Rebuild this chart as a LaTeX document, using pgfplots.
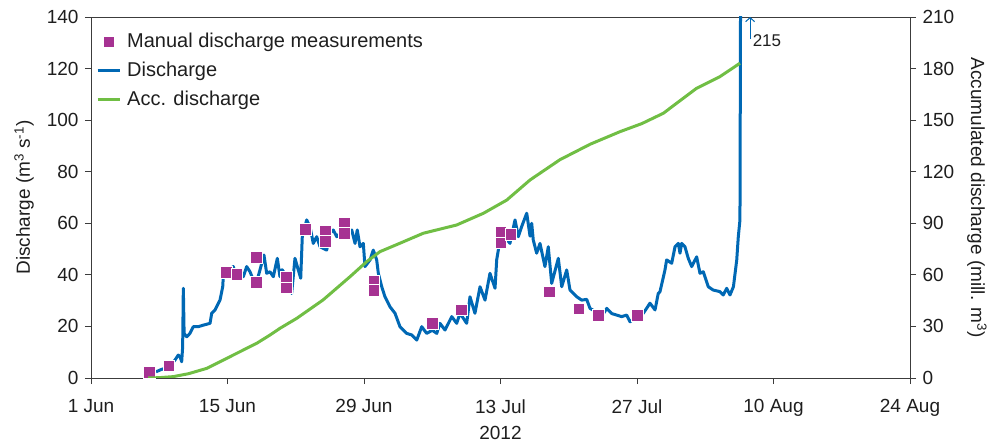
\documentclass[border=0pt]{standalone}
\usepackage{pgfplots}
\pgfplotsset{compat=1.18}
\usetikzlibrary{arrows.meta}
\usepackage{fontspec}
\setmainfont{Liberation Sans}
\definecolor{qblue}{RGB}{0,104,180}
\definecolor{qgreen}{RGB}{112,190,68}
\definecolor{qmag}{RGB}{166,50,146}
\definecolor{axc}{RGB}{60,60,60}
\definecolor{txc}{RGB}{30,30,30}
\pgfplotsset{shortleg/.style={legend image code/.code={\draw[mark repeat=2,mark phase=2,##1] plot coordinates {(0pt,0pt) (11pt,0pt) (22pt,0pt)};}}}
\begin{document}
\fontsize{19}{22}\selectfont
\begin{tikzpicture}
\path[use as bounding box] (-91pt,-66pt) rectangle (907pt,378pt);
\begin{axis}[
  at={(0,0)}, anchor=south west,
  scale only axis, width=819pt, height=361pt,
  xmin=0, xmax=84, ymin=0, ymax=140,
  xtick={0,14,28,42,56,70,84},
  xticklabels={1 Jun,15 Jun,29 Jun,13 Jul,27 Jul,10 Aug,24 Aug},
  ytick={0,20,...,140},
  xtick pos=left, ytick pos=left,
  tick align=outside, major tick length=6pt,
  axis line style={axc, line width=0.9pt},
  every tick/.style={axc, line width=0.9pt},
  tick label style={font=\fontsize{19}{22}\selectfont, text=txc},
  xticklabel style={yshift=-9pt},
  /pgf/number format/assume math mode=true,
  xlabel={2012},
  xlabel style={font=\fontsize{19}{22}\selectfont, text=txc, inner ysep=1pt, yshift=-2pt},
  ylabel={Discharge (m\textsuperscript{3} s\textsuperscript{-1})},
  ylabel style={font=\fontsize{19}{22}\selectfont, text=txc},
  clip mode=individual,
  legend cell align=left,
  legend style={at={(rel axis cs:0,1)}, anchor=north west, yshift=-8pt, draw=none, fill=none,
    font=\fontsize{20}{23}\selectfont, text=txc, row sep=7.5pt, column sep=4pt, inner xsep=5pt, inner ysep=6pt},
]
\addlegendimage{only marks, mark=square*, mark size=5.8pt, mark options={fill=qmag, draw=white, line width=0.6pt}, shortleg}
\addlegendentry{Manual discharge measurements}
\addlegendimage{qblue, line width=3pt, shortleg}
\addlegendentry{Discharge}
\addlegendimage{qgreen, line width=3pt, shortleg}
\addlegendentry{Acc. discharge}
\addplot[qblue, line width=3pt, line join=round, forget plot] coordinates {
(6.67,2.4) (7.08,3.1) (7.59,3.8) (7.9,4.5) (8.3,5.5) (8.62,7.0) (8.95,8.9) (9.13,8.3) (9.30,6.3)
(9.40,12) (9.47,34.8) (9.55,17.3) (9.82,16.0) (10.15,17.3) (10.49,19.9) (11.0,19.9) (11.52,20.5)
(12.21,21.2) (12.38,25.1) (12.72,26.4) (13.23,30.2) (13.51,35.4) (13.57,39.3) (13.92,41.2)
(14.59,43.2) (14.77,41.2) (15.28,41.2) (15.62,39.3) (15.97,43.2) (16.31,41.2) (16.65,38.0)
(16.9,36) (17.33,41.9) (17.74,47.7) (18.02,40.6) (18.36,41.2) (18.7,39.3) (19.11,46.4)
(19.38,39.3) (19.6,42) (20.07,39.3) (20.41,36.7) (20.58,32.8) (20.92,46.4) (21.26,41.9)
(21.51,38.7) (21.67,54.8) (22.12,61.3) (22.46,58.7) (22.8,52.2) (23.15,54.8) (23.49,50.9)
(24.17,49.6) (24.51,56.1) (24.85,57.4) (25.2,54.8) (25.54,56.1) (26.23,54.8) (26.74,57.4)
(27.08,52.2) (27.31,57.4) (27.59,50.9) (27.93,52.2) (28.1,43.2) (28.62,45.8) (28.95,49.6)
(29.3,45.8) (29.47,40.6) (29.82,35.4) (30.15,31.5) (30.67,27.6) (31.18,25.1) (31.69,19.9)
(32.38,17.3) (32.89,16.7) (33.41,14.7) (33.92,19.9) (34.43,17.3) (35.0,18.5) (35.46,17.3)
(35.79,21.2) (36.31,18.6) (37.0,23.8) (37.51,21.2) (37.85,25.1) (38.53,21.2) (38.87,31.5)
(39.38,25.1) (39.9,35.4) (40.41,30.2) (40.92,40.6) (41.44,34.8) (41.61,45.8) (41.95,53.5)
(42.46,54.8) (42.97,52.2) (43.49,61.3) (43.83,54.8) (44.17,58.7) (44.69,63.9) (45.03,55.0)
(45.2,60) (45.36,53.5) (45.71,48.4) (46.05,52.2) (46.56,43.2) (46.9,50.9) (47.25,36.7)
(47.93,46.4) (48.28,35.4) (48.79,41.9) (49.13,34.1) (49.82,31.5) (50.33,30.2) (50.84,30.5)
(51.18,27.0) (51.87,25.5) (52.4,24) (52.9,27.0) (53.4,25) (53.92,24.4) (54.43,23.8)
(54.94,24.4) (55.28,21.8) (55.7,23) (56.2,24.5) (56.65,25.1) (57.33,29.0) (57.85,26.4)
(58.18,32.8) (58.36,33.5) (58.87,41.9) (59.04,45.8) (59.56,44.5) (59.9,50.9) (60.24,52.2)
(60.41,48.4) (60.58,52.2) (60.92,50.9) (61.26,46.4) (61.61,43.2) (62.12,47.0) (62.46,40.6)
(62.8,41.2) (63.31,35.4) (63.82,34.1) (64.51,33.5) (64.85,32.2) (65.2,34.8) (65.54,32.2)
(65.89,35.4) (66.23,45.8) (66.39,54.8) (66.56,61.3) (66.67,215)
};
\addplot[only marks, mark=square*, mark size=5.8pt, mark options={fill=qmag, draw=white, line width=0.6pt}, forget plot] coordinates {
(6,2.2) (8,4.8) (13.85,41.0) (14.94,40.3) (16.95,46.8) (16.95,37.1) (20,39.3) (20,35.0)
(22,57.7) (24,57.1) (24,53.0) (26,60.0) (26,56.0) (29,37.7) (29,34.1) (35,21.2) (38,26.4)
(42.05,56.7) (42.05,52.5) (43.05,55.8) (47,33.5) (50.05,26.8) (52.03,24.2) (56.03,24.2)
};
\draw[-{Straight Barb[length=4pt,width=9pt]}, qblue, line width=1pt] (axis cs:67.6,131.5) -- (axis cs:67.6,140);
\node[anchor=west, font=\fontsize{17}{20}\selectfont, text=txc, inner sep=1pt] at (axis cs:67.75,131) {215};
\end{axis}
\begin{axis}[
  at={(0,0)}, anchor=south west,
  scale only axis, width=819pt, height=361pt,
  xmin=0, xmax=84, ymin=0, ymax=210,
  axis x line=none, axis y line*=right,
  ytick={0,30,...,210},
  tick align=outside, major tick length=6pt,
  axis line style={axc, line width=0.9pt},
  every tick/.style={axc, line width=0.9pt},
  tick label style={font=\fontsize{19}{22}\selectfont, text=txc},
  /pgf/number format/assume math mode=true,
  ylabel={Accumulated discharge (mill. m\textsuperscript{3})},
  ylabel style={font=\fontsize{19}{22}\selectfont, text=txc, rotate=180},
]
\addplot[qgreen, line width=3pt, line join=round] coordinates {
(5.85,0) (7,0.2) (8.44,0.8) (10,2.5) (11.87,5.6) (14.26,12.4) (17.0,20.2) (18.36,25.0)
(19.38,28.9) (21.1,34.7) (23.8,45.4) (26.56,58.9) (28.28,67.7) (29.64,73.5) (31.69,78.4)
(34.08,84.2) (37.5,89.0) (40.24,95.8) (42.64,103.5) (45.03,115.2) (48.1,127) (51.2,136)
(54.26,143.3) (56.5,148) (58.7,154) (62.1,168.5) (64.5,175.3) (66.56,183.1)
};
\end{axis}
\end{tikzpicture}
\end{document}
